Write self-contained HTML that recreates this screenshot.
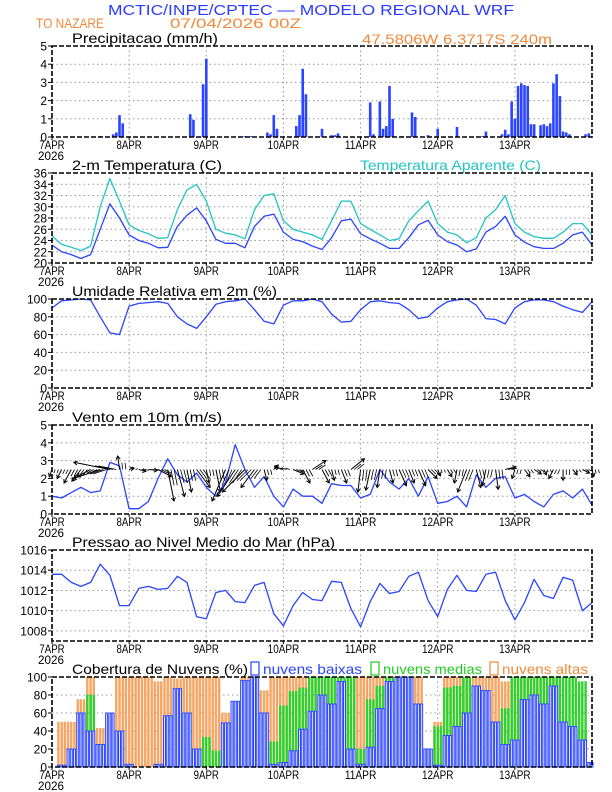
<!DOCTYPE html>
<html><head><meta charset="utf-8">
<style>
html,body{margin:0;padding:0;background:#fff;}
svg{display:block;font-family:"Liberation Sans",sans-serif;}
</style></head>
<body>
<svg id="chart" width="612" height="792" viewBox="0 0 612 792" xmlns="http://www.w3.org/2000/svg">
<text x="108" y="15" font-size="15" fill="#2a3cff" textLength="406" lengthAdjust="spacingAndGlyphs">MCTIC/INPE/CPTEC — MODELO REGIONAL WRF</text>
<text x="36" y="28" font-size="14" fill="#f08a3c" textLength="68" lengthAdjust="spacingAndGlyphs">TO NAZARE</text>
<text x="170" y="28" font-size="14" fill="#f08a3c" textLength="131" lengthAdjust="spacingAndGlyphs">07/04/2026 00Z</text>
<text x="362" y="44" font-size="14" fill="#f08a3c" textLength="190" lengthAdjust="spacingAndGlyphs">47.5806W 6.3717S 240m</text>
<g id="layer"></g>
</svg>
<script>
// ---- data (3-hourly, h = 0..168 unless noted) ----
const dayLabels = ["7APR","8APR","9APR","10APR","11APR","12APR","13APR"];
const precipHours = [15,19,20,21,22,43,44,47,48,60,62,67,68,69,70,76,77,78,79,84,87,88,89,99,100,102,103,104,105,106,109,112,113,117,120,126,134,135,140,141,142,143,144,145,146,147,148,149,150,152,153,154,155,156,157,158,159,160,161,166,167];
const precipVals = [0.05,0.15,0.25,1.2,0.75,1.25,0.95,2.9,4.3,0.05,0.05,0.25,0.15,1.2,0.45,0.6,1.2,3.75,2.35,0.45,0.1,0.1,0.2,1.9,0.15,1.95,0.45,0.6,2.8,1.0,0.05,1.35,1.1,0.1,0.45,0.55,0.05,0.3,0.15,0.4,0.15,1.95,1.0,2.8,2.95,2.85,2.8,0.7,0.7,0.65,0.7,0.6,0.75,2.95,3.45,2.25,0.3,0.25,0.15,0.15,0.2];
const temp2m = [23.2,22,21.5,20.8,21.5,26,30.5,28,25,24,23.5,22.7,22.8,26.5,28.5,29.8,27.5,24.2,23.5,23.5,22.7,26.5,28.3,28.7,25.5,24.2,23.8,23,22.4,24.5,27.5,27.8,25.2,24.3,23.5,22.6,22.6,24.5,26.8,27.6,25,23.8,23.2,22,22.5,25.5,26.5,28.3,25,23.7,22.9,22.6,22.6,23.5,25,25.5,23.2];
const tempApp = [24.8,23.3,22.8,22.2,23,30,35,31,26.8,25.8,25.2,24.4,24.5,29.5,33,34,31,26,25.3,25,24.3,29.5,32,32.3,27.5,26,25.5,25,24.2,27.5,31,31,27,26,25,24,24.3,27.5,29.3,31,27,25.5,25,23.6,24.5,28,29.5,32,27,25.5,24.7,24.4,24.4,25.5,27,27,25];
const relHum = [90,98,99,100,99,80,62,60,92,95,96,97,95,80,72,67,80,94,97,98,100,88,75,72,93,98,98,100,97,83,74,75,88,97,98,96,95,88,78,80,90,97,99,100,93,78,77,72,90,97,99,99,97,92,88,85,97];
const windSpd = [1.0,0.9,1.2,1.5,1.2,1.3,2.9,2.7,0.3,0.3,0.7,2.0,3.1,2.2,1.8,2.3,1.5,1.0,1.8,3.9,2.5,1.5,2.1,1.0,0.4,1.4,1.0,1.0,0.6,1.7,1.6,1.6,0.9,1.1,2.5,1.8,1.4,2.0,1.0,2.1,0.6,0.7,1.0,0.4,2.2,1.5,2.0,2.1,0.9,1.1,0.7,0.4,1.1,1.3,0.9,1.4,0.5];
const windU = [-0.3,-0.5,-0.8,-1,-1.5,-3,-4,-0.2,0.5,0.8,1,1.5,0.7,0.8,0.5,1.5,0.3,0.5,-1.5,-2,-2.5,-1.5,0.3,0.5,-1,1.2,0.8,1.5,0.8,0.3,0.6,1.5,-0.3,-0.5,-0.3,0.4,0.8,0.6,0.8,1,0.3,0.5,-0.3,-1,0.5,-0.4,0.3,1.2,-0.3,0.6,0.8,0.3,-0.5,0,0.5,0.8,0.2];
const windV = [-0.8,-1,-1.5,-1.3,-0.8,-1,0.8,1.5,0.2,-0.2,-0.1,-0.8,-3.5,-3,-2.5,-2,-1.5,-2.5,-3.5,-3,-2.5,-2,-1.2,0.5,0.3,-0.5,-1.5,1,-1.5,-1.2,-1.5,1.2,-2.5,-2.3,-2,-1.5,-1.8,-1.5,-1.8,-1,-0.7,-0.8,-1.5,-2.5,-2,-1.8,-2.2,0.3,-1,-0.8,-0.5,-0.6,-1,-1.2,-0.6,-0.4,-0.8];
const pressure = [1013.6,1013.6,1012.8,1012.4,1012.8,1014.6,1013.5,1010.5,1010.5,1012.2,1012.4,1012.1,1012.2,1013.4,1012.8,1009.4,1009.2,1011.8,1012,1010.9,1010.8,1012.5,1012.8,1009.7,1008.5,1010.5,1011.8,1011.1,1011,1012.9,1012.8,1010.2,1008.4,1010.9,1012.7,1011.7,1011.9,1013.4,1013.8,1011,1009.4,1012.1,1013.5,1012,1011.9,1013.6,1013.8,1011,1009.1,1010.8,1013.1,1011.5,1011.2,1013.3,1013,1010,1010.8];
const cloudHigh = [0,50,50,75,100,43,47,100,100,100,100,95,100,98,100,100,100,100,60,30,100,100,85,100,100,100,100,100,100,100,95,100,100,100,100,100,100,100,100,20,50,100,100,100,100,100,100,95,100,100,100,100,100,40,40,40,0];
const cloudMid = [0,0,0,0,80,10,0,0,0,0,0,0,0,0,0,0,33,18,0,0,0,0,0,28,68,84,88,100,100,100,100,100,20,75,90,100,100,100,60,20,45,88,90,100,75,45,50,65,100,100,100,100,100,100,100,95,0];
const cloudLow = [0,2,20,60,40,25,60,40,3,0,0,3,57,87,60,20,0,0,49,73,96,100,60,3,5,18,42,62,80,70,95,20,3,22,65,95,100,100,70,20,2,35,45,60,90,85,50,25,30,75,80,70,90,50,45,30,5];

// ---- layout ----
const X0=52, X1=592, HOURS=168;
const NS="http://www.w3.org/2000/svg";
const layer=document.getElementById('layer');
function sx(h){return X0+h/HOURS*(X1-X0);}
function mk(tag,attrs,parent){const e=document.createElementNS(NS,tag);for(const k in attrs)e.setAttribute(k,attrs[k]);(parent||layer).appendChild(e);return e;}
function scaleY(p,v){return p.bottom-(v-p.min)/(p.max-p.min)*(p.bottom-p.top);}
const BLUE="#2a44ff";

const panels=[
 {name:"precip",top:46,bottom:137,min:0,max:5,ticks:[0,1,2,3,4,5],title:"Precipitacao (mm/h)",tw:146},
 {name:"temp",top:173,bottom:263,min:20,max:36,ticks:[20,22,24,26,28,30,32,34,36],title:"2-m Temperatura (C)",tw:150},
 {name:"humidity",top:299,bottom:388,min:0,max:100,ticks:[0,20,40,60,80,100],title:"Umidade Relativa em 2m (%)",tw:205},
 {name:"wind",top:425,bottom:514,min:0,max:5,ticks:[0,1,2,3,4,5],title:"Vento em 10m (m/s)",tw:150},
 {name:"pressure",top:550,bottom:641,min:1007,max:1016,ticks:[1008,1010,1012,1014,1016],title:"Pressao ao Nivel Medio do Mar (hPa)",tw:263},
 {name:"clouds",top:677,bottom:767,min:0,max:100,ticks:[0,20,40,60,80,100],title:"Cobertura de Nuvens (%)",tw:176}
];

function drawFrame(p,g){
  for(let d=1;d<7;d++){
    const l=mk('line',{x1:sx(d*24),x2:sx(d*24),y1:p.top,y2:p.bottom,stroke:"#999","stroke-dasharray":"1.5,3","stroke-width":1},g);
    
    
  }
  p.ticks.forEach(t=>{
    const y=scaleY(p,t);
    if(y>p.top+1&&y<p.bottom-1){
      const l=mk('line',{x1:X0,x2:X1,y1:y,y2:y,stroke:"#999","stroke-dasharray":"1.5,3","stroke-width":1},g);
      
      
    }
    const tl=mk('line',{x1:X0-4,x2:X0,y1:y,y2:y,stroke:"#000","stroke-width":1},g);
    
    
    const tx=mk('text',{x:X0-5,y:y+4.5,"font-size":12,"text-anchor":"end",fill:"#000"},g);
    tx.textContent=t;
    
    
  });
  const tt=mk('text',{x:72,y:p.top-3,"font-size":14,fill:"#000",textLength:p.tw,lengthAdjust:"spacingAndGlyphs"},g);
  tt.textContent=p.title;
  
  
  dayLabels.forEach((lab,d)=>{
    const x=sx(d*24);
    const tk=mk('line',{x1:x,x2:x,y1:p.bottom,y2:p.bottom+3,stroke:"#000"},g);
    
    
    const t=mk('text',{x:x,y:p.bottom+12,"font-size":11.5,"text-anchor":"middle",fill:"#000",textLength:lab.length*6.3,lengthAdjust:"spacingAndGlyphs"},g);
    t.textContent=lab;
    
    
  });
  const yr=mk('text',{x:X0-14,y:p.bottom+23,"font-size":11.5,fill:"#000",textLength:26,lengthAdjust:"spacingAndGlyphs"},g);
  yr.textContent="2026";
  
  
}
function drawBorder(p,g){
  const r=mk('rect',{x:X0,y:p.top,width:X1-X0,height:p.bottom-p.top,fill:"none",stroke:"#000","stroke-width":1.6,"stroke-dasharray":"5,2"},g);
  
  
}
function linePath(p,vals,color,g,name){
  const d=vals.map((v,i)=>(i?"L":"M")+sx(i*3).toFixed(1)+","+scaleY(p,v).toFixed(1)).join(" ");
  const e=mk('path',{d:d,fill:"none",stroke:color,"stroke-width":1.3,"stroke-linejoin":"round"},g);
  
  
}

panels.forEach(p=>{
  const g=mk('g',{});
  
  
  drawFrame(p,g);
  if(p.name==="precip"){
    precipHours.forEach((h,i)=>{
      const y=scaleY(p,precipVals[i]);
      const b=mk('rect',{x:sx(h)-1.3,y:y,width:2.6,height:p.bottom-y,fill:BLUE},g);
      
      
    });
  } else if(p.name==="temp"){
    linePath(p,tempApp,"#22c4c4",g,'apparent-temp-line');
    linePath(p,temp2m,BLUE,g,'temp-line');
    const at=mk('text',{x:360,y:p.top-3,"font-size":14,fill:"#22c4c4",textLength:181,lengthAdjust:"spacingAndGlyphs"},g);
    at.textContent="Temperatura Aparente (C)";
    
    
  } else if(p.name==="humidity"){
    linePath(p,relHum,BLUE,g,'humidity-line');
  } else if(p.name==="wind"){
    linePath(p,windSpd,BLUE,g,'wind-speed-line');
    const by=scaleY(p,2.5), k=9;
    windU.forEach((u,i)=>{
      const x=sx(i*3), x2=x+u*k, y2=by-windV[i]*k;
      const a=mk('line',{x1:x,y1:by,x2:x2,y2:y2,stroke:"#000","stroke-width":1},g);
      
      
      const ang=Math.atan2(y2-by,x2-x), L=4;
      const h=mk('path',{d:`M${x2+L*Math.cos(ang+2.6)},${y2+L*Math.sin(ang+2.6)} L${x2},${y2} L${x2+L*Math.cos(ang-2.6)},${y2+L*Math.sin(ang-2.6)}`,fill:"none",stroke:"#000","stroke-width":1},g);
      
      
      for(let j=1;j<3;j++){
        const f=mk('line',{x1:sx(i*3+j),y1:by,x2:sx(i*3+j)+u*k*0.5,y2:by-windV[i]*k*0.5,stroke:"#000","stroke-width":0.8},g);
        
        
      }
    });
  } else if(p.name==="pressure"){
    linePath(p,pressure,BLUE,g,'pressure-line');
  } else if(p.name==="clouds"){
    const hw=(X1-X0)/HOURS;
    [[cloudHigh,"#f7a562","#f7a562",'cloud-high-bar',0.4],[cloudMid,"#30d030","#30d030",'cloud-mid-bar',0.4],[cloudLow,"#e4e6ff",BLUE,'cloud-low-bar',1]].forEach(s=>{
      s[0].forEach((v,i)=>{
        if(v<=0)return;
        const y=scaleY(p,v);
        for(let j=-1;j<=1;j++){
          const h=i*3+j;
          if(h<0||h>HOURS)continue;
          const b=mk('rect',{x:sx(h)-hw/2+0.6,y:y,width:hw-1.2,height:p.bottom-y,fill:s[1],stroke:s[2],"stroke-width":s[4]},g);
          
          
        }
      });
    });
    const legs=[[250,"nuvens baixas",BLUE,"#2a44ff",99],[370,"nuvens medias","#22cc22","#22cc22",99],[489,"nuvens altas","#f08a3c","#f08a3c",86]];
    legs.forEach(l=>{
      const r=mk('rect',{x:l[0]+1,y:p.top-15,width:8,height:13,fill:"none",stroke:l[3],"stroke-width":1.2},g);
      
      
      const t=mk('text',{x:l[0]+13,y:p.top-3,"font-size":14,fill:l[2],textLength:l[4],lengthAdjust:"spacingAndGlyphs"},g);
      t.textContent=l[1];
      
      
    });
  }
  drawBorder(p,g);
});
</script>
</body></html>
